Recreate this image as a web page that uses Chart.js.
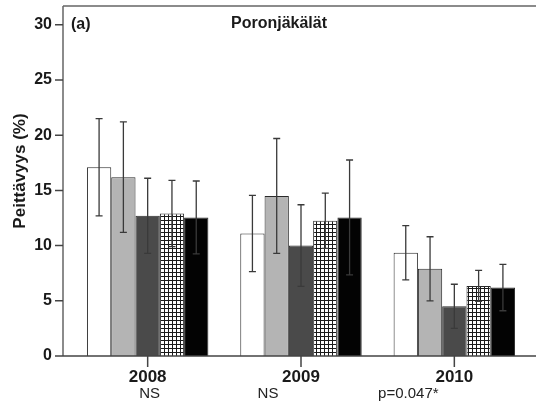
<!DOCTYPE html>
<html>
<head>
<meta charset="utf-8">
<script src="https://cdn.jsdelivr.net/npm/chart.js@4.4.1/dist/chart.umd.min.js"></script>
<style>
  html, body { margin: 0; padding: 0; background: #fff; }
  #wrap { width: 536px; height: 407px; }
</style>
</head>
<body>
<div id="wrap"><canvas id="chart"></canvas></div>
<script>
// DATA
const years = ['2008', '2009', '2010'];
const notes = ['NS', 'NS', 'p=0.047*'];
const yTicks = [0, 5, 10, 15, 20, 25, 30];

const whiteVals = [17.1, 11.1, 9.35];
const whiteErr = [4.4, 3.45, 2.45];
const lightVals = [16.2, 14.5, 7.9];
const lightErr = [5.0, 5.2, 2.9];
const darkVals = [12.7, 10.0, 4.5];
const darkErr = [3.4, 3.7, 2.0];
const checkVals = [12.9, 12.25, 6.35];
const checkErr = [3.0, 2.5, 1.4];
const blackVals = [12.55, 12.55, 6.2];
const blackErr = [3.3, 5.2, 2.1];

// LAYOUT
const noteShift = [2, -33, -46];
const yTitle = 'Peittävyys (%)';
const panelTag = '(a)';
const panelTitle = 'Poronjäkälät';
const FAMILY = '"Liberation Sans", Arial, sans-serif';

function checkerPattern() {
    const c = document.createElement('canvas');
    c.width = 4; c.height = 4;
    const g = c.getContext('2d');
    g.fillStyle = '#fff';
    g.fillRect(0, 0, 4, 4);
    g.fillStyle = '#1a1a1a';
    g.fillRect(0, 0, 4, 1);
    g.fillRect(0, 0, 1, 4);
    return g.createPattern(c, 'repeat');
}

const errs = [whiteErr, lightErr, darkErr, checkErr, blackErr];

// axes, frame, error bars and texts
const decor = {
    id: 'decor',
    afterDatasetsDraw(chart) {
        const ctx = chart.ctx;
        const { top, left } = chart.chartArea;
        const ys = chart.scales.y, xs = chart.scales.x;
        const ax = left - 8;
        const base = ys.getPixelForValue(0);

        // error bars
        ctx.save();
        ctx.strokeStyle = '#3a3a3a';
        ctx.lineWidth = 1.3;
        chart.data.datasets.forEach((ds, i) => {
            const meta = chart.getDatasetMeta(i);
            meta.data.forEach((bar, j) => {
                const v = ds.data[j], e = errs[i][j];
                const y1 = ys.getPixelForValue(v + e);
                const y2 = ys.getPixelForValue(v - e);
                ctx.beginPath();
                ctx.moveTo(bar.x, y1); ctx.lineTo(bar.x, y2);
                ctx.moveTo(bar.x - 3.5, y1); ctx.lineTo(bar.x + 3.5, y1);
                ctx.moveTo(bar.x - 3.5, y2); ctx.lineTo(bar.x + 3.5, y2);
                ctx.stroke();
            });
        });

        // frame: left axis, top line, baseline
        ctx.lineWidth = 1.5;
        ctx.strokeStyle = '#666';
        ctx.beginPath();
        ctx.moveTo(ax, top); ctx.lineTo(ax, base);
        ctx.moveTo(ax, top); ctx.lineTo(chart.width, top);
        ctx.stroke();
        ctx.strokeStyle = '#444';
        ctx.beginPath();
        ctx.moveTo(ax, base); ctx.lineTo(chart.width, base);
        yTicks.forEach(t => {
            const py = ys.getPixelForValue(t);
            ctx.moveTo(ax - 8, py); ctx.lineTo(ax, py);
        });
        years.forEach((_, k) => {
            const px = xs.getPixelForValue(k);
            ctx.moveTo(px, base); ctx.lineTo(px, base + 11);
        });
        ctx.stroke();

        // texts
        ctx.fillStyle = '#1a1a1a';
        ctx.font = 'bold 16px ' + FAMILY;
        ctx.textBaseline = 'middle';
        ctx.textAlign = 'left';
        ctx.fillText(panelTag, ax + 8, top + 19);
        ctx.fillText(panelTitle, 231, top + 18);

        ctx.save();
        ctx.translate(20, 171);
        ctx.rotate(-Math.PI / 2);
        ctx.textAlign = 'center';
        ctx.font = 'bold 17px ' + FAMILY;
        ctx.fillText(yTitle, 0, 0);
        ctx.restore();

        ctx.font = '15px ' + FAMILY;
        ctx.fillStyle = '#222';
        ctx.textAlign = 'center';
        notes.forEach((n, k) => {
            ctx.fillText(n, xs.getPixelForValue(k) + noteShift[k], 394);
        });
        ctx.restore();
    }
};

const mk = (label, data, color) => ({
    label, data, backgroundColor: color,
    borderColor: '#2a2a2a', borderWidth: 1,
    categoryPercentage: 0.792, barPercentage: 1.0
});

new Chart(document.getElementById('chart'), {
    type: 'bar',
    data: {
        labels: years,
        datasets: [
            mk('A', whiteVals, '#ffffff'),
            mk('B', lightVals, '#b4b4b4'),
            mk('C', darkVals, '#4a4a4a'),
            mk('D', checkVals, checkerPattern()),
            mk('E', blackVals, '#030303')
        ]
    },
    options: {
        responsive: true,
        maintainAspectRatio: false,
        animation: false,
        layout: { padding: { top: 6, right: 5, bottom: 20, left: 0 } },
        plugins: { legend: { display: false }, tooltip: { enabled: false } },
        scales: {
            x: {
                grid: { display: false, drawTicks: false },
                border: { display: false },
                afterFit: s => { s.height = 31; s.paddingLeft = 0; s.paddingRight = 0; },
                ticks: {
                    padding: 11,
                    color: '#1a1a1a',
                    font: { family: FAMILY, size: 17, weight: 'bold' }
                }
            },
            y: {
                min: 0,
                max: 31.7,
                grid: { display: false, drawTicks: true, tickLength: 16 },
                border: { display: false },
                afterBuildTicks: s => { s.ticks = yTicks.map(v => ({ value: v })); },
                afterFit: s => { s.width = 71; s.paddingTop = 0; s.paddingBottom = 0; },
                ticks: {
                    padding: 3,
                    color: '#1a1a1a',
                    font: { family: FAMILY, size: 16, weight: 'bold' }
                }
            }
        }
    },
    plugins: [decor]
});
</script>
</body>
</html>
